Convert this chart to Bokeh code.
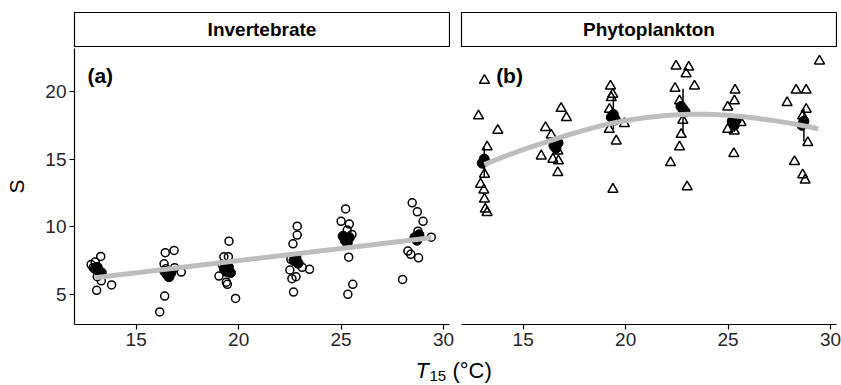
from bokeh.plotting import figure
from bokeh.models import Range1d, Spacer, Label, FixedTicker
from bokeh.layouts import row, column
from bokeh.embed import file_html
from bokeh.resources import INLINE
from bokeh.core.properties import value

FONT = "Liberation Sans"

# ---------------- data ----------------
panel_titles = ["Invertebrate", "Phytoplankton"]
panel_tags = ["(a)", "(b)"]
x_ticks = [15, 20, 25, 30]
y_ticks = [5, 10, 15, 20]

# Invertebrate: raw values (open circles)
inv_x = [12.8, 13.27, 13.0, 12.9, 13.8, 13.07, 13.3, 13.1,
         16.42, 16.85, 16.36, 16.88, 17.2, 16.39, 16.15, 16.45,
         19.53, 19.28, 19.5, 19.2, 19.04, 19.45, 19.4, 19.85,
         22.86, 22.86, 22.65, 22.55, 23.46, 23.1, 22.5, 22.6, 22.8, 22.68,
         25.22, 25.0, 25.4, 25.3, 25.53, 25.37, 25.57, 25.33,
         28.47, 28.72, 29.0, 28.75, 29.4, 28.26, 28.4, 28.78, 28.0]
inv_y = [7.2, 7.8, 7.4, 6.97, 5.7, 5.3, 6.0, 6.3,
         8.08, 8.25, 7.26, 6.97, 6.65, 4.87, 3.70, 6.9,
         8.93, 7.78, 7.78, 7.2, 6.35, 5.74, 5.9, 4.7,
         10.04, 9.38, 8.74, 7.58, 6.85, 7.0, 6.8, 6.16, 6.3, 5.17,
         11.32, 10.4, 10.2, 9.75, 9.43, 7.75, 5.74, 5.0,
         11.77, 11.1, 10.4, 9.67, 9.23, 8.2, 7.96, 7.7, 6.1]
# Invertebrate: site means (filled)
inv_mx = [13.0, 13.1, 13.2, 13.3, 16.4, 16.5, 16.6, 16.7, 19.3, 19.4, 19.5, 19.6,
          22.7, 22.8, 22.9, 25.1, 25.2, 25.3, 25.4, 28.6, 28.7, 28.8]
inv_my = [6.9, 7.0, 6.7, 6.6, 6.7, 6.5, 6.3, 6.6, 6.9, 6.7, 7.0, 6.6,
          7.5, 7.7, 7.3, 9.3, 9.0, 8.8, 9.2, 9.2, 9.0, 9.4]
# Invertebrate: fitted line
inv_fit_x = [12.98, 29.4]
inv_fit_y = [6.23, 9.18]

# Phytoplankton: raw values (open triangles)
phy_x = [13.11, 12.82, 13.76, 13.24, 13.11, 12.92, 13.08, 13.11, 13.15, 13.24,
         16.85, 17.11, 16.09, 16.37, 15.88, 16.69, 16.45, 16.72, 16.69,
         19.26, 19.37, 19.3, 19.21, 19.2, 19.94, 19.54, 19.38,
         22.46, 23.08, 22.95, 23.36, 22.41, 22.63, 22.79, 22.71, 22.63, 22.19, 23.0,
         25.34, 25.31, 24.98, 25.63, 24.98, 25.3, 25.28,
         29.46, 28.32, 28.81, 27.88, 28.81, 28.64, 28.89, 28.24, 28.64, 28.76]
phy_y = [20.82, 18.19, 17.13, 15.9, 13.88, 13.14, 12.7, 12.04, 11.3, 11.05,
         18.75, 18.06, 17.33, 16.78, 15.23, 15.6, 14.99, 14.87, 14.0,
         20.4, 19.79, 19.54, 18.68, 17.2, 17.62, 16.34, 12.77,
         21.88, 21.8, 21.31, 20.4, 20.23, 19.3, 17.87, 16.83, 15.9, 14.74, 12.95,
         20.1, 19.3, 18.85, 17.7, 17.2, 17.08, 15.41,
         22.25, 20.1, 20.1, 19.17, 18.68, 18.19, 16.22, 14.82, 13.83, 13.44]
# Phytoplankton: site means (filled) and their bars
phy_mx = [13.0, 13.1, 16.5, 16.6, 16.7, 19.3, 19.4, 19.5, 22.7, 22.8, 22.9,
          25.2, 25.3, 25.4, 28.6, 28.7]
phy_my = [14.7, 15.0, 16.0, 15.8, 16.2, 18.1, 18.3, 17.9, 18.9, 18.7, 18.5,
          17.8, 17.5, 17.9, 17.5, 17.8]
bar_x = [13.1, 19.4, 22.8, 25.3, 28.7]
bar_lo = [13.6, 17.2, 16.9, 17.0, 16.3]
bar_hi = [15.9, 19.6, 20.2, 18.3, 18.7]
# Phytoplankton: fitted curve
phy_fit_x = [13.1, 14.0, 15.0, 16.0, 17.0, 18.0, 19.0, 20.0, 21.0, 22.0,
             23.0, 24.0, 25.0, 26.0, 27.0, 28.0, 29.0, 29.4]
phy_fit_y = [14.6, 15.15, 15.7, 16.2, 16.7, 17.15, 17.55, 17.85, 18.08, 18.23,
             18.31, 18.32, 18.24, 18.1, 17.9, 17.66, 17.38, 17.25]

XR = (11.99, 30.29)
YR = (2.77, 23.18)
TICK_COLOR = "#262626"
LINE_GREY = "#BDBDBD"


def make_panel(show_y, width, mbl, mbr):
    p = figure(width=width, height=307, x_range=Range1d(*XR), y_range=Range1d(*YR),
               output_backend="svg", toolbar_location=None,
               min_border_left=mbl, min_border_right=mbr,
               min_border_top=1, min_border_bottom=30)
    p.outline_line_color = None
    p.grid.visible = False
    for ax in (p.xaxis[0], p.yaxis[0]):
        ax.minor_tick_line_color = None
        ax.major_tick_out = 5
        ax.major_tick_in = 0
        ax.axis_line_color = "black"
        ax.axis_line_width = 1.2
        ax.major_tick_line_color = "black"
        ax.major_tick_line_width = 1.2
        ax.major_label_text_font = FONT
        ax.major_label_text_font_size = "19px"
        ax.major_label_text_color = TICK_COLOR
        ax.major_label_standoff = 3
    p.xaxis[0].ticker = FixedTicker(ticks=x_ticks)
    p.yaxis[0].ticker = FixedTicker(ticks=y_ticks)
    if show_y:
        p.yaxis[0].axis_label = "S"
        p.yaxis[0].axis_label_text_font = FONT
        p.yaxis[0].axis_label_text_font_size = "21px"
        p.yaxis[0].axis_label_text_font_style = "normal"
        p.yaxis[0].axis_label_text_color = "black"
        p.yaxis[0].axis_label_standoff = 14
    else:
        p.yaxis.visible = False
    return p


def make_strip(title):
    s = figure(width=377, height=36, x_range=Range1d(0, 1), y_range=Range1d(0, 1),
               output_backend="svg", toolbar_location=None, min_border=1)
    s.xaxis.visible = False
    s.yaxis.visible = False
    s.grid.visible = False
    s.outline_line_color = "black"
    s.outline_line_width = 1.2
    s.text(x=[0.5], y=[0.5], text=[title], text_align="center", text_baseline="middle",
           text_font=value(FONT), text_font_style="bold", text_font_size="19px",
           text_color="black")
    return s


pa = make_panel(True, 455, 74, 6)
pb = make_panel(False, 386, 6, 5)

# panel a
pa.scatter(inv_x, inv_y, marker="circle", size=8, fill_color=None,
           line_color="black", line_width=1.5)
pa.scatter(inv_mx, inv_my, marker="circle", size=10, fill_color="black",
           line_color="black")
pa.line(inv_fit_x, inv_fit_y, line_color=LINE_GREY, line_width=5)
pa.add_layout(Label(x=12.62, y=21.2, text=panel_tags[0], text_font=FONT,
                    text_font_size="21px", text_font_style="bold", text_color="black",
                    text_baseline="middle", text_align="left"))

# panel b
pb.scatter(phy_x, phy_y, marker="triangle", size=10, fill_color=None,
           line_color="black", line_width=1.5)
pb.segment(x0=bar_x, y0=bar_lo, x1=bar_x, y1=bar_hi, line_color="black", line_width=1.5)
pb.scatter(phy_mx, phy_my, marker="circle", size=10, fill_color="black",
           line_color="black")
pb.line(phy_fit_x, phy_fit_y, line_color=LINE_GREY, line_width=5)
pb.add_layout(Label(x=13.68, y=21.2, text=panel_tags[1], text_font=FONT,
                    text_font_size="21px", text_font_style="bold", text_color="black",
                    text_baseline="middle", text_align="left"))

sa = make_strip(panel_titles[0])
sb = make_strip(panel_titles[1])

# x-axis title shared by both panels
lab = figure(width=841, height=31, x_range=Range1d(0, 841), y_range=Range1d(0, 31),
             output_backend="svg", toolbar_location=None, min_border=0)
lab.xaxis.visible = False
lab.yaxis.visible = False
lab.grid.visible = False
lab.outline_line_color = None
lab.text(x=[415], y=[15], text=["T"], text_align="left", text_baseline="middle",
         text_font=value(FONT), text_font_style="italic", text_font_size="22px",
         text_color="black")
lab.text(x=[429], y=[10], text=["15"], text_align="left", text_baseline="middle",
         text_font=value(FONT), text_font_size="15px", text_color="black")
lab.text(x=[452], y=[15], text=["(°C)"], text_align="left", text_baseline="middle",
         text_font=value(FONT), text_font_size="22px", text_color="black")

layout = column(
    Spacer(width=841, height=11),
    row(Spacer(width=73, height=36), sa, Spacer(width=10, height=36), sb),
    row(pa, pb),
    lab,
)

open("out.html", "w").write(file_html(layout, INLINE))
